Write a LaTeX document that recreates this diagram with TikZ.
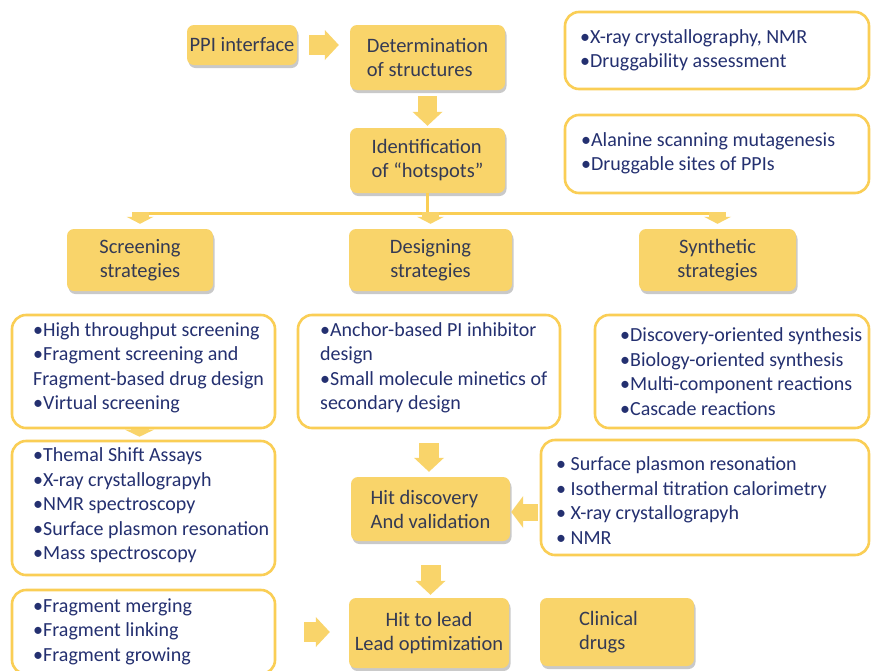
\documentclass[tikz,border=0pt]{standalone}
\usepackage{fontspec}
\setmainfont{Carlito}
\usetikzlibrary{arrows.meta,shadows,calc}
\definecolor{goldfill}{RGB}{249,212,106}
\definecolor{goldline}{RGB}{250,206,85}
\definecolor{navy}{RGB}{36,48,112}
\definecolor{darktxt}{RGB}{52,58,84}
\tikzset{
  fbox/.style={rounded corners=7pt, fill=goldfill, draw=none,
    drop shadow={shadow xshift=1.5pt, shadow yshift=-3pt, opacity=0.35, fill=black!60},
    font=\fontsize{20.5}{24}\selectfont, text=darktxt, inner sep=0pt},
  wbox/.style={rounded corners=14pt, draw=goldline, line width=2.6pt, fill=white, inner sep=0pt},
  btxt/.style={font=\fontsize{20}{24.5}\selectfont, text=navy, align=left, inner sep=0pt, anchor=west},
  bigarrow/.style={draw=goldfill, line width=20pt, -{Triangle[length=14pt,width=30pt,line width=0pt]}},
  smallarrow/.style={draw=goldfill, line width=17pt, -{Triangle[length=7pt,width=27pt,line width=0pt]}},
  stubarrow/.style={draw=goldfill, line width=18pt, -{Triangle[length=7pt,width=29pt,line width=0pt]}},
  hline/.style={draw=goldline, line width=3pt}
}
\begin{document}
\begin{tikzpicture}[x=1pt,y=-1pt]
\useasboundingbox[fill=white] (0,0) rectangle (872,670);

% filled boxes
\node[fbox, minimum width=110pt, minimum height=40pt] (ppi) at (242,45) {PPI interface};
\node[fbox, minimum width=155pt, minimum height=65pt, align=left] (det) at (427.5,57.5) {Determination\\of structures};
\node[fbox, minimum width=155pt, minimum height=65pt, align=left] (ident) at (427.5,160.5) {Identification\\of “hotspots”};
\node[fbox, minimum width=146pt, minimum height=62pt, align=center] (screen) at (140,260) {Screening\\strategies};
\node[fbox, minimum width=163pt, minimum height=62pt, align=center] (design) at (430.5,260) {Designing\\strategies};
\node[fbox, minimum width=157pt, minimum height=62pt, align=center] (synth) at (717.5,260) {Synthetic\\strategies};
\node[fbox, minimum width=159pt, minimum height=64pt, align=left] (hit) at (430.5,509) {Hit discovery\\And validation};
\node[fbox, minimum width=160pt, minimum height=70pt, align=center] (lead) at (429,633) {Hit to lead\\Lead optimization};
\node[fbox, minimum width=154pt, minimum height=68pt, text width=76pt, align=left] (clin) at (617,632) {Clinical\\drugs};

% white boxes
\node[wbox, minimum width=304pt, minimum height=77pt] (tr1) at (717,50.5) {};
\node[wbox, minimum width=304pt, minimum height=78pt] (tr2) at (717,154) {};
\node[wbox, minimum width=263pt, minimum height=113pt] (A) at (143.5,371.5) {};
\node[wbox, minimum width=263pt, minimum height=134pt] (B) at (143.5,508) {};
\node[wbox, minimum width=263pt, minimum height=84pt] (C) at (143.5,632) {};
\node[wbox, minimum width=262pt, minimum height=113pt] (M) at (429,371.5) {};
\node[wbox, minimum width=274pt, minimum height=113pt] (S) at (732,371.5) {};
\node[wbox, minimum width=328pt, minimum height=115pt] (D) at (705,497.5) {};

% texts of white boxes
\node[btxt] (tr1t) at (580,50.5) {•X-ray crystallography, NMR\\•Druggability assessment};
\node[btxt] (tr2t) at (581,153.5) {•Alanine scanning mutagenesis\\•Druggable sites of PPIs};
\node[btxt] (At) at (33,368) {•High throughput screening\\•Fragment screening and\\Fragment-based drug design\\•Virtual screening};
\node[btxt] (Bt) at (33,505.5) {•Themal Shift Assays\\•X-ray crystallograpyh\\•NMR spectroscopy\\•Surface plasmon resonation\\•Mass spectroscopy};
\node[btxt] (Ct) at (33,631.5) {•Fragment merging\\•Fragment linking\\•Fragment growing};
\node[btxt] (Mt) at (320,368) {•Anchor-based PI inhibitor\\design\\•Small molecule minetics of\\secondary design};
\node[btxt] (St) at (620,371.5) {•Discovery-oriented synthesis\\•Biology-oriented synthesis\\•Multi-component reactions\\•Cascade reactions};
\node[btxt] (Dt) at (556,500.5) {• Surface plasmon resonation\\• Isothermal titration calorimetry\\• X-ray crystallograpyh\\• NMR};

% connectors
\draw[bigarrow, shorten <=12pt, shorten >=11pt] (ppi.east) -- (ppi.east -| det.west);
\draw[bigarrow, line width=19pt, shorten <=6pt, shorten >=2pt] (det.south) -- (ident.north);

\coordinate (hL) at (140,213);
\coordinate (hR) at (717,213);
\draw[hline] (ident.south) -- (ident.south |- hL);
\draw[hline] (hL) -- (hR);
\draw[smallarrow, shorten <=-1pt, shorten >=5pt] (screen.north |- hL) -- (screen.north);
\draw[smallarrow, shorten <=-1pt, shorten >=5pt] (design.north |- hL) -- (design.north);
\draw[smallarrow, shorten <=-1pt, shorten >=5pt] (synth.north |- hL) -- (synth.north);

\draw[stubarrow, shorten >=3pt] ([xshift=-4pt]A.south) -- ([xshift=-4pt]B.north);
\draw[bigarrow, shorten <=14pt, shorten >=5pt] (M.south) -- (M.south |- hit.north);
\draw[bigarrow, line width=17pt, -{Triangle[length=12pt,width=32pt,line width=0pt]}, shorten <=2pt, shorten >=1pt] ([yshift=-3pt]D.west |- hit.east) -- ([yshift=-3pt]hit.east);
\draw[bigarrow, shorten <=24pt, shorten >=3pt] (hit.south) -- (hit.south |- lead.north);
\draw[bigarrow, shorten <=28pt, shorten >=19pt] (C.east) -- (C.east -| lead.west);
\end{tikzpicture}
\end{document}
